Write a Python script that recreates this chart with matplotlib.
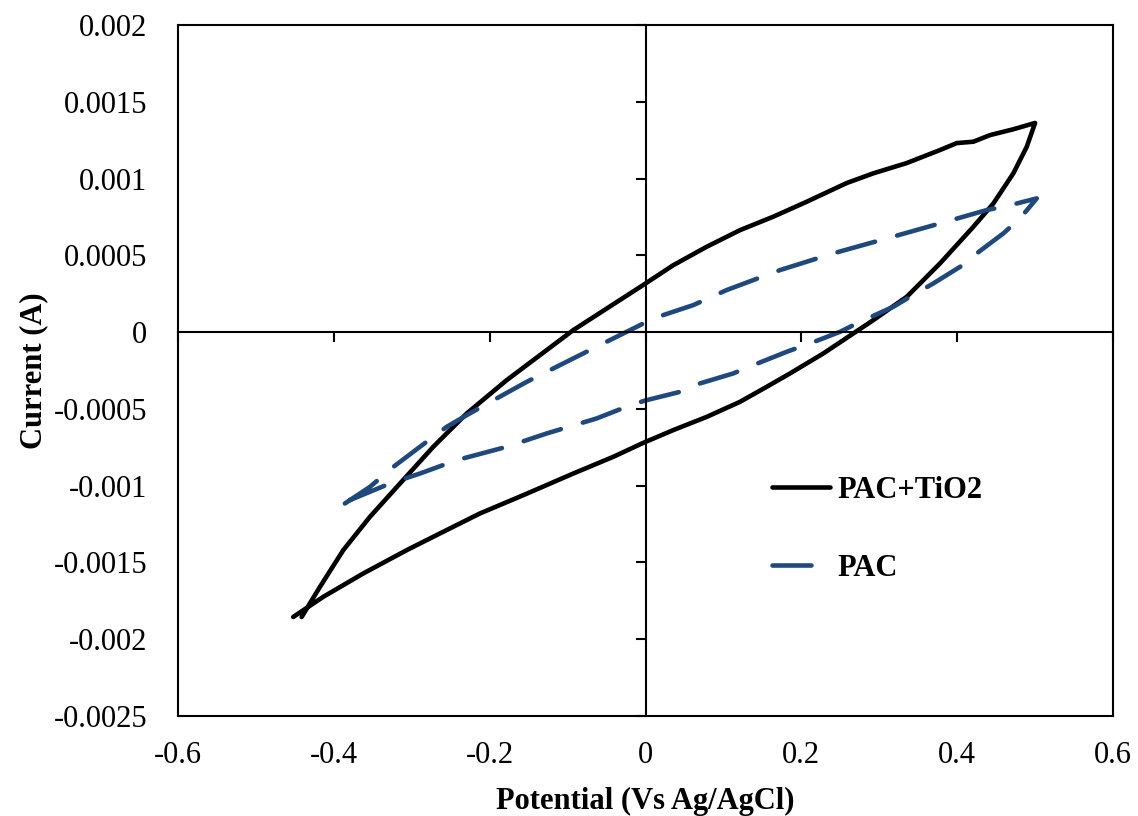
import matplotlib
matplotlib.use("Agg")
import matplotlib.pyplot as plt
from matplotlib.font_manager import FontProperties

# ---- data ----
tio2_x = [-0.4413, -0.4178, -0.3879, -0.3537, -0.3151, -0.2724, -0.2295, -0.1782,
          -0.1268, -0.0927, -0.0032, 0.0357, 0.0786, 0.1213, 0.1637, 0.2069,
          0.2583, 0.2924, 0.3353, 0.3781, 0.3995, 0.4208, 0.4422, 0.4721, 0.5000,
          0.4893, 0.4721, 0.4465, 0.4208, 0.3781, 0.3353, 0.2924, 0.2668,
          0.2282, 0.1855, 0.1556, 0.1213, 0.0786, 0.0357, -0.0032,
          -0.0413, -0.0927, -0.1569, -0.2125, -0.2638, -0.3065, -0.3623, -0.4136, -0.4521]
tio2_y = [-0.001855, -0.001659, -0.001420, -0.001203, -0.000986, -0.000747, -0.000530, -0.000313,
          -0.000117, 0.000013, 0.000306, 0.000436, 0.000556, 0.000664, 0.000751, 0.000849,
          0.000971, 0.001034, 0.001101, 0.001186, 0.001231, 0.001240, 0.001283, 0.001321, 0.001362,
          0.001207, 0.001034, 0.000838, 0.000686, 0.000448, 0.000230, 0.0000782, -0.0000085,
          -0.000139, -0.000269, -0.000356, -0.000454, -0.000552, -0.000638, -0.000722,
          -0.000812, -0.000921, -0.001062, -0.001181, -0.001311, -0.001420, -0.001572, -0.001724, -0.001855]

pac_x = [-0.3858, -0.3537, -0.3237, -0.2895, -0.2552, -0.2295, -0.1910, -0.1525,
         -0.0969, -0.0413, -0.0113, 0.0100, 0.0614, 0.1042, 0.1727, 0.2411,
         0.3096, 0.3781, 0.4380, 0.4637, 0.5022,
         0.4807, 0.4593, 0.4252, 0.4037, 0.3694, 0.3395, 0.3181, 0.2754, 0.2497,
         0.2112, 0.1813, 0.1384, 0.1127, 0.0700, 0.0443, 0.0015,
         -0.0157, -0.0626, -0.1268, -0.1782, -0.2424, -0.2895, -0.3280, -0.3537, -0.3793]
pac_y = [-0.001116, -0.001008, -0.000878, -0.000747, -0.000617, -0.000541, -0.000432, -0.000324,
         -0.000182, -0.0000410, 0.0000345, 0.0000893, 0.000176, 0.000274, 0.000404, 0.000513,
         0.000610, 0.000708, 0.000795, 0.000821, 0.000871,
         0.000741, 0.000643, 0.000513, 0.000425, 0.000317, 0.000230, 0.000165, 0.0000671, 0.0000020,
         -0.0000736, -0.000128, -0.000215, -0.000269, -0.000334, -0.000389, -0.000443,
         -0.000469, -0.000562, -0.000660, -0.000747, -0.000834, -0.000921, -0.000986, -0.001040, -0.001094]

x_ticks = [-0.6, -0.4, -0.2, 0, 0.2, 0.4, 0.6]
x_labels = ["-0.6", "-0.4", "-0.2", "0", "0.2", "0.4", "0.6"]
y_ticks = [-0.0025, -0.002, -0.0015, -0.001, -0.0005, 0, 0.0005, 0.001, 0.0015, 0.002]
y_labels = ["-0.0025", "-0.002", "-0.0015", "-0.001", "-0.0005", "0",
            "0.0005", "0.001", "0.0015", "0.002"]

series_labels = ["PAC+TiO2", "PAC"]
colors = ["#000000", "#1F497D"]

plt.rcParams['font.family'] = ['Liberation Serif', 'DejaVu Serif']

fig = plt.figure(figsize=(11.38, 8.16), dpi=100)
pos = [178 / 1138, 1 - 716 / 816, (1113 - 178) / 1138, (716 - 25) / 816]
ax = fig.add_axes(pos)

ax.plot(tio2_x, tio2_y, color=colors[0], lw=3.3, solid_capstyle='round',
        solid_joinstyle='round', label=series_labels[0], zorder=3)
ax.plot(pac_x, pac_y, color=colors[1], lw=3.3, dashes=(8.5, 5), dash_capstyle='round',
        dash_joinstyle='round', label=series_labels[1], zorder=3)

ax.set_xlim(-0.6, 0.6)
ax.set_ylim(-0.0025, 0.002)
ax.set_xticks(x_ticks)
ax.set_xticklabels(x_labels)
ax.set_yticks(y_ticks)
ax.set_yticklabels(y_labels)
ax.tick_params(axis='both', length=0, labelsize=22)
ax.tick_params(axis='y', pad=22)
ax.tick_params(axis='x', pad=18)
for s in ax.spines.values():
    s.set_linewidth(1.5)

ax.set_xlabel("Potential (Vs Ag/AgCl)", fontsize=22, fontweight='bold', labelpad=12)
ax.set_ylabel("Current (A)", fontsize=22, fontweight='bold', labelpad=4)

# central crossing axes with tick marks
ax2 = fig.add_axes(pos, sharex=ax, sharey=ax)
ax2.patch.set_visible(False)
ax2.spines['top'].set_visible(False)
ax2.spines['right'].set_visible(False)
ax2.spines['left'].set_position(('data', 0))
ax2.spines['bottom'].set_position(('data', 0))
ax2.spines['left'].set_linewidth(1.5)
ax2.spines['bottom'].set_linewidth(1.5)
ax2.tick_params(axis='both', direction='out', length=7, width=1.5,
                labelleft=False, labelbottom=False)

leg = ax.legend(loc='center left', bbox_to_anchor=(0.606, 0.27), frameon=False,
                prop=FontProperties(family='Liberation Serif', weight='bold', size=22),
                handlelength=1.9, handletextpad=0.25, labelspacing=1.6)

fig.savefig("out.png", dpi=100)
